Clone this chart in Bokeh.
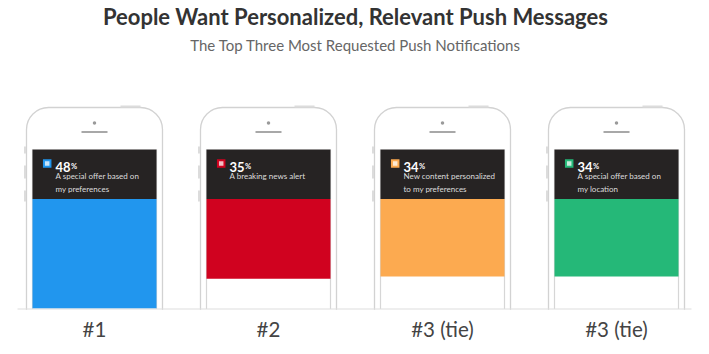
from bokeh.plotting import figure
from bokeh.models import Range1d, ColumnDataSource
from bokeh.core.properties import value
from bokeh.embed import file_html
from bokeh.resources import INLINE

# ---- data ----
ranks = ["#1", "#2", "#3 (tie)", "#3 (tie)"]
percents = [48, 35, 34, 34]
descriptions = [
    "A special offer based on\nmy preferences",
    "A breaking news alert",
    "New content personalized\nto my preferences",
    "A special offer based on\nmy location",
]
colors = ["#2196ee", "#d0021f", "#fcaa50", "#25b878"]
title = "People Want Personalized, Relevant Push Messages"
subtitle = "The Top Three Most Requested Push Notifications"

# ---- layout constants (pixels / slot units) ----
W, H = 709, 354
SLOT = 174.0            # px between phone centres
FIRST = 94.0            # px centre of first phone
HEADER_TOP, HEADER_BOT = 149.0, 198.5
BASE = 308.5
PX_PER_PCT = 2.28

def u(px):
    return px / SLOT

idx = list(range(len(percents)))

p = figure(width=W, height=H, output_backend="svg", toolbar_location=None,
           x_range=Range1d(-FIRST / SLOT, (W - FIRST) / SLOT),
           y_range=Range1d(H, 0), min_border=0,
           x_axis_location=None, y_axis_location=None)
p.grid.visible = False
p.outline_line_color = None
p.background_fill_color = "white"
p.border_fill_color = "white"
p.extra_y_ranges = {"pct": Range1d(start=(H - HEADER_BOT) / PX_PER_PCT,
                                   end=-HEADER_BOT / PX_PER_PCT)}

src = ColumnDataSource(dict(
    x=idx, pct=percents, color=colors, rank=ranks, desc=descriptions,
    label=[str(v) for v in percents],
    outer_l=[i - u(68) for i in idx], outer_r=[i + u(68) for i in idx],
    scr_l=[i - u(62) for i in idx], scr_r=[i + u(62) for i in idx],
    icon_x=[i - u(47.3) for i in idx], txt_x=[i - u(39) for i in idx],
    pc_x=[i - u(23.5) for i in idx],
    ear_l=[i - u(13) for i in idx], ear_r=[i + u(13) for i in idx],
    btn_l=[i + u(26) for i in idx], btn_r=[i + u(46) for i in idx],
    side_x=[i - u(69.5) for i in idx],
))

# phone bodies
p.quad(left="outer_l", right="outer_r", top=107, bottom=350, source=src,
       fill_color="white", line_color="#d2d2d2", line_width=1.3, border_radius=22)
# top power button
p.segment(x0="btn_l", y0=106, x1="btn_r", y1=106, source=src,
          line_color="#dcdcdc", line_width=2)
# side buttons
for a, b in [(146, 153), (165, 178), (190, 201)]:
    p.segment(x0="side_x", y0=a, x1="side_x", y1=b, source=src,
              line_color="#dcdcdc", line_width=2)
# speaker + earpiece
p.scatter(x="x", y=122.5, size=3.5, source=src, fill_color="#9a9a9a", line_color=None)
p.segment(x0="ear_l", y0=131.5, x1="ear_r", y1=131.5, source=src,
          line_color="#a8a8a8", line_width=2)
# screen edges
p.segment(x0="scr_l", y0=HEADER_TOP, x1="scr_l", y1=BASE, source=src,
          line_color="#d6d6d6", line_width=1.2)
p.segment(x0="scr_r", y0=HEADER_TOP, x1="scr_r", y1=BASE, source=src,
          line_color="#d6d6d6", line_width=1.2)
# dark header
p.quad(left="scr_l", right="scr_r", top=HEADER_TOP, bottom=HEADER_BOT, source=src,
       fill_color="#262323", line_color=None)
# bars hanging from header
p.vbar(x="x", width=u(124), top=0, bottom="pct", source=src, y_range_name="pct",
       fill_color="color", line_color=None)
# white cover below baseline
p.quad(left=-2, right=6, top=BASE + 0.8, bottom=H + 10, fill_color="white", line_color=None)
# baseline
p.segment(x0=-FIRST / SLOT + u(17), y0=BASE, x1=-FIRST / SLOT + u(691), y1=BASE,
          line_color="#dddddd", line_width=1.2)

# header icon
p.scatter(x="icon_x", y=163, size=8.5, marker="square", source=src,
          fill_color="color", line_color=None)
p.scatter(x="icon_x", y=163, size=4.5, marker="square", source=src,
          fill_color="white", fill_alpha=0.75, line_color=None)
# value
p.text(x="txt_x", y=166, text="label", source=src, text_color="white",
       text_font=value("Lato"), text_font_style="bold", text_font_size="13px",
       text_baseline="alphabetic", text_align="left")
p.text(x="pc_x", y=166, text=value("%"), source=src, text_color="white",
       text_font=value("Lato"), text_font_style="bold", text_font_size="7.5px",
       text_baseline="alphabetic", text_align="left")
# description
p.text(x="txt_x", y=170.5, text="desc", source=src, text_color="#dddddd",
       text_font=value("Lato"), text_font_size="8px", text_line_height=1.25,
       text_baseline="top", text_align="left")

# rank labels
p.text(x="x", y=328, text="rank", source=src, text_color="#444444",
       text_font=value("Lato"), text_font_size="20.5px",
       text_baseline="middle", text_align="center")

# titles
mid = (len(percents) - 1) / 2
p.text(x=[mid], y=[16], text=[title], text_color="#333333",
       text_font=value("Lato"), text_font_style="bold", text_font_size="22px",
       text_baseline="middle", text_align="center")
p.text(x=[mid], y=[44.5], text=[subtitle], text_color="#666666",
       text_font=value("Lato"), text_font_size="15px",
       text_baseline="middle", text_align="center")

open("out.html", "w").write(file_html(p, INLINE))
